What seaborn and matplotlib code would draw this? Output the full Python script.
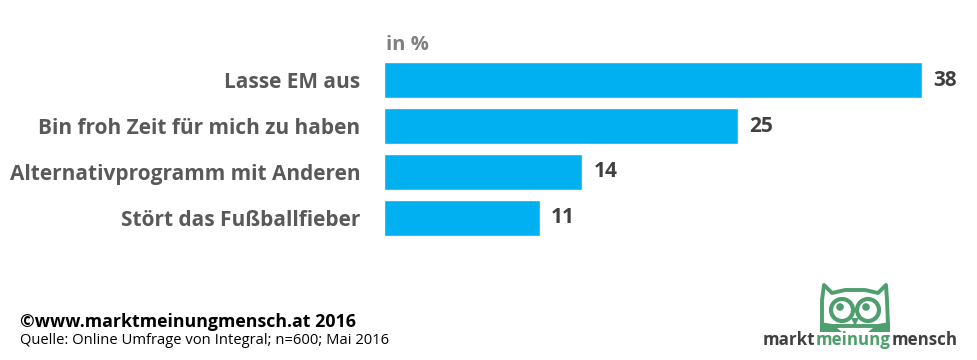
import matplotlib
matplotlib.use("Agg")
import matplotlib.pyplot as plt
import seaborn as sns
import pandas as pd
from matplotlib.patches import Circle, Polygon

# data
categories = ["Lasse EM aus", "Bin froh Zeit für mich zu haben",
              "Alternativprogramm mit Anderen", "Stört das Fußballfieber"]
values = [38, 25, 14, 11]
df = pd.DataFrame({"cat": categories, "val": values})

sns.set_theme(style="white")
plt.rcParams["font.family"] = ["Open Sans", "DejaVu Sans"]

fig = plt.figure(figsize=(9.78, 3.6), dpi=100)
ax = fig.add_axes([384 / 978, 0.3306, 538 / 978, 0.511])

sns.barplot(data=df, x="val", y="cat", color="#00B0F0", saturation=1,
            width=0.78, ax=ax, orient="h")
ax.set_xlim(0, 38)
ax.set_ylim(3.5, -0.5)
sns.despine(ax=ax, left=True, bottom=True)
ax.set_xticks([])
ax.set_xlabel("")
ax.set_ylabel("")
ax.tick_params(axis="y", length=0, pad=17)
for lab in ax.get_yticklabels():
    lab.set_fontsize(15)
    lab.set_fontweight("bold")
    lab.set_color("#595959")

for i, v in enumerate(values):
    ax.text(v + 0.8, i, str(v), va="center", ha="left", fontsize=15,
            fontweight="bold", color="#404040")

fig.text(386 / 978, 1 - 45 / 360, "in %", fontsize=14.5, fontweight="bold",
         color="#808080", va="center", ha="left")

fig.text(20 / 978, 1 - 322 / 360, "©www.marktmeinungmensch.at 2016",
         fontsize=12.8, fontweight="bold", color="black", va="center")
fig.text(20 / 978, 1 - 341 / 360, "Quelle: Online Umfrage von Integral; n=600; Mai 2016",
         fontsize=10.6, color="black", va="center")

# logo
green = "#4E9E6E"
lax = fig.add_axes([0, 0, 1, 1], facecolor="none")
lax.set_xlim(0, 978)
lax.set_ylim(360, 0)
lax.axis("off")
head = Polygon([(824, 285), (832, 293), (845, 290), (865, 290), (878, 293),
                (886, 285), (887, 300), (888, 326), (822, 326), (822, 300)],
               closed=True, facecolor="white", edgecolor=green, linewidth=2.8,
               joinstyle="round")
lax.add_patch(head)
for cx in (842, 868):
    lax.add_patch(Circle((cx, 310), 11, facecolor="white", edgecolor=green,
                         linewidth=3))
    lax.add_patch(Circle((cx - 2, 307), 3.8, facecolor=green, edgecolor="none"))
lax.add_patch(Polygon([(851, 318), (859, 318), (855, 326)], closed=True,
                      facecolor=green, edgecolor="none"))
lax.add_patch(Polygon([(820, 332), (820, 322), (832, 324), (842, 332)], closed=True,
                      facecolor=green, edgecolor="none"))
lax.add_patch(Polygon([(890, 332), (890, 322), (878, 324), (868, 332)], closed=True,
                      facecolor=green, edgecolor="none"))

# chain logo words so they touch each other
fig.canvas.draw()
r = fig.canvas.get_renderer()
x = 763
for word, col in [("markt", "#3F3F3F"), ("meinung", green), ("mensch", "#3F3F3F")]:
    t = fig.text(x / 978, 1 - 340 / 360, word, fontsize=12.2, fontweight="bold",
                 color=col, va="center", ha="left")
    bb = t.get_window_extent(renderer=r)
    x = bb.x1 + 0.5

fig.savefig("out.png", dpi=100)
